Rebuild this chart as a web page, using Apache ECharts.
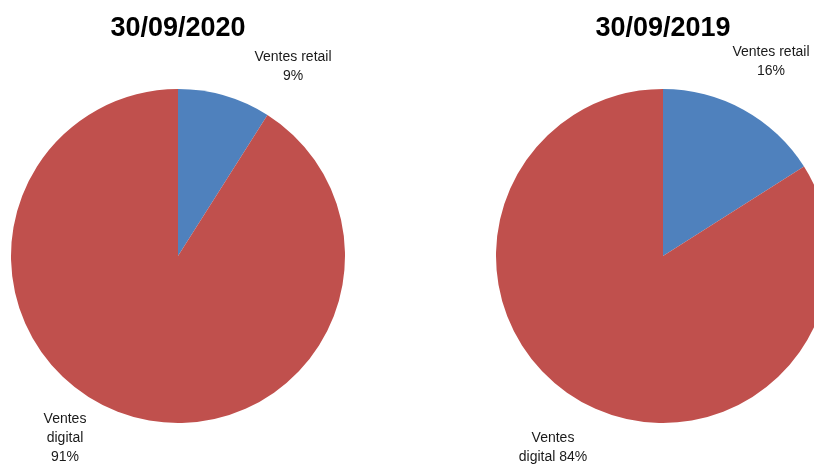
<!DOCTYPE html>
<html><head><meta charset="utf-8">
<script src="https://cdn.jsdelivr.net/npm/echarts@6/dist/echarts.min.js"></script>
<style>html,body{margin:0;padding:0;background:#fff}#c{width:814px;height:465px}</style>
</head><body><div id="c"></div>
<script>
const titles = ['30/09/2020', '30/09/2019'];
const categories = ['Ventes retail', 'Ventes digital'];
const values2020 = [9, 91];
const values2019 = [16, 84];
const labels2020 = ['Ventes retail\n9%', 'Ventes\ndigital\n91%'];
const labels2019 = ['Ventes retail\n16%', 'Ventes\ndigital 84%'];
const colors = ['#4F81BD', '#C0504D'];

// label anchor positions (px) per series / slice
const labelPos = [
  [[293, 67], [65, 438]],
  [[771, 62], [553, 448]]
];

const chart = echarts.init(document.getElementById('c'), null, {renderer: 'canvas'});
const font = 'Liberation Sans';
function mk(vals, labs, cx, si) {
  return {
    type: 'pie',
    center: [cx, 256],
    radius: [0, 167],
    startAngle: 90,
    clockwise: true,
    silent: true,
    animation: false,
    data: categories.map((c, i) => ({
      name: c, value: vals[i],
      itemStyle: {color: colors[i]},
      label: {formatter: labs[i]}
    })),
    label: {show: true, position: 'inside', color: '#1a1a1a', fontSize: 14, fontFamily: font, lineHeight: 19, align: 'center', overflow: 'none'},
    labelLine: {show: false},
    itemStyle: {borderWidth: 0},
    labelLayout: function (p) {
      const pos = labelPos[si][p.dataIndex];
      return {x: pos[0], y: pos[1], align: 'center', verticalAlign: 'middle'};
    }
  };
}
const titleStyle = {fontFamily: font, fontWeight: 'bold', fontSize: 27, color: '#000'};
chart.setOption({
  animation: false,
  title: [
    {text: titles[0], left: 178, top: 15, padding: 0, textAlign: 'center', textStyle: titleStyle},
    {text: titles[1], left: 663, top: 15, padding: 0, textAlign: 'center', textStyle: titleStyle}
  ],
  series: [mk(values2020, labels2020, 178, 0), mk(values2019, labels2019, 663, 1)]
});
</script></body></html>
